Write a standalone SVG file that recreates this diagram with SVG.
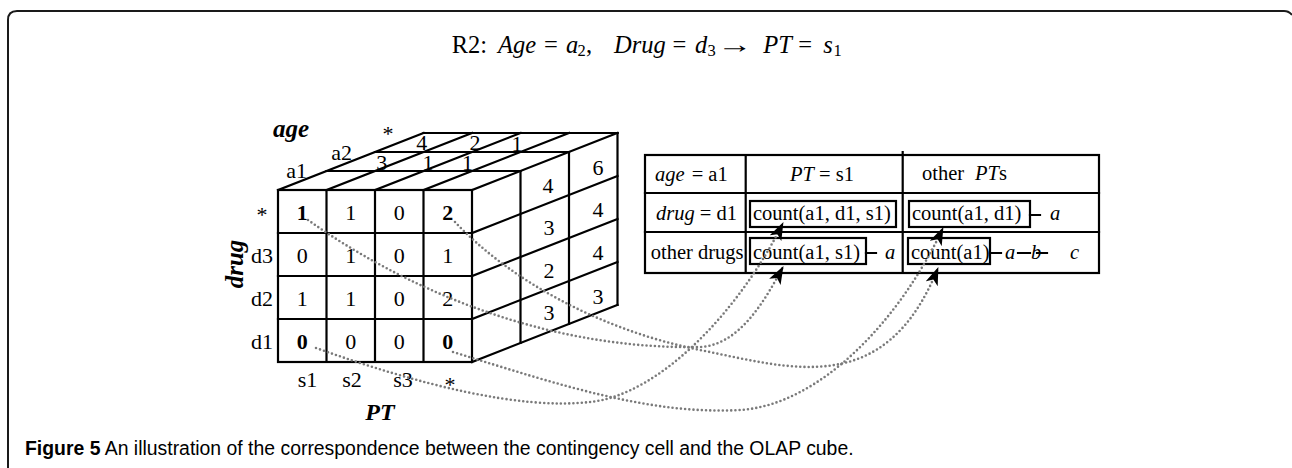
<svg xmlns="http://www.w3.org/2000/svg" width="1292" height="468" viewBox="0 0 1292 468">
<defs>
<style>
.s{font-family:"Liberation Serif","Times New Roman",serif;fill:#000}
.n{font-size:22px;text-anchor:middle}
.i{font-style:italic}
.b{font-weight:bold}
.bi{font-weight:bold;font-style:italic}
.ln{stroke:#000;stroke-width:2.2;fill:none;stroke-linecap:square}
.t{font-size:20.5px}
.dot{fill:none;stroke:#7a7a7a;stroke-width:2.6;stroke-dasharray:0 4.2;stroke-linecap:round}
</style>
<marker id="ah" viewBox="0 0 18 13" refX="17" refY="6.5" markerWidth="18" markerHeight="13" markerUnits="userSpaceOnUse" orient="auto"><path d="M0,0 L18,6.5 L0,13 L4.5,6.5 Z" fill="#000"/></marker>
</defs>
<rect width="1292" height="468" fill="#fff"/>
<path d="M8,468 L8,20 Q8,11 17,11 L1284,11 Q1289,11 1292,15" fill="none" stroke="#1a1a1a" stroke-width="2"/>

<g id="title" class="s" font-size="24.5">
<text y="53"><tspan x="451.7">R2:</tspan><tspan x="498" class="i">Age</tspan><tspan x="544">=</tspan><tspan x="566" class="i">a</tspan></text>
<text x="577.5" y="55.5" font-size="16.5">2</text>
<text y="53"><tspan x="586">,</tspan><tspan x="614" class="i">Drug</tspan><tspan x="672.5">=</tspan><tspan x="695" class="i">d</tspan></text>
<text x="707.5" y="55.5" font-size="16.5">3</text>
<text transform="translate(717,53) scale(1.45,1)">→</text>
<text y="53"><tspan x="763.3" class="i">PT</tspan><tspan x="798.3">=</tspan><tspan x="823.3" class="i">s</tspan></text>
<text x="833.5" y="55.5" font-size="16.5">1</text>
</g>

<g id="cube">
<g class="ln">
<rect x="278" y="190" width="194" height="172"/>
<path d="M326.5,190V362M375,190V362M423.5,190V362M278,233H472M278,276H472M278,319H472"/>
<path d="M278,190L423.5,133M326.5,190L472,133M375,190L520.5,133M423.5,190L569,133M472,190L617.5,133"/>
<path d="M326.5,171H520.5M375,152H569M423.5,133H617.5"/>
<path d="M520.5,171V343M569,152V324M617.5,133V305"/>
<path d="M472,233L617.5,176M472,276L617.5,219M472,319L617.5,262M472,362L617.5,305"/>
</g>
<g class="s n">
<text x="302.3" y="219.5" class="b">1</text><text x="350.8" y="219.5">1</text><text x="399.3" y="219.5">0</text><text x="447.8" y="219.5" class="b">2</text>
<text x="302.3" y="262.5">0</text><text x="350.8" y="262.5">1</text><text x="399.3" y="262.5">0</text><text x="447.8" y="262.5">1</text>
<text x="302.3" y="305.5">1</text><text x="350.8" y="305.5">1</text><text x="399.3" y="305.5">0</text><text x="447.8" y="305.5">2</text>
<text x="302.3" y="348.5" class="b">0</text><text x="350.8" y="348.5">0</text><text x="399.3" y="348.5">0</text><text x="447.8" y="348.5" class="b">0</text>
<text x="381.7" y="169.5">3</text><text x="428" y="169.5">1</text><text x="467.5" y="170">1</text>
<text x="421.7" y="150">4</text><text x="475" y="150">2</text><text x="517" y="151">1</text>
<text x="548" y="193">4</text><text x="549" y="235">3</text><text x="549" y="278">2</text><text x="549" y="320">3</text>
<text x="598" y="175">6</text><text x="598" y="217">4</text><text x="598" y="260">4</text><text x="598" y="304">3</text>
<text x="262" y="222">*</text><text x="262" y="263">d3</text><text x="262" y="306">d2</text><text x="262" y="348.5">d1</text>
<text x="307.5" y="387">s1</text><text x="352" y="387">s2</text><text x="403" y="387">s3</text><text x="450" y="392">*</text>
<text x="296.7" y="178">a1</text><text x="341.7" y="160">a2</text><text x="388" y="141">*</text>
</g>
<text class="s bi" x="380" y="420" font-size="24" text-anchor="middle">PT</text>
<text class="s bi" x="291" y="137" font-size="25" text-anchor="middle">age</text>
<text class="s bi" font-size="25" text-anchor="middle" transform="translate(243,264) rotate(-90)">drug</text>
</g>

<g id="table">
<g class="ln" stroke-width="2">
<rect x="645" y="155" width="454" height="118"/>
<path d="M745.7,155V273M902.7,152V273M645,193H1099M645,232H1099"/>
</g>
<g class="s t">
<text y="181"><tspan x="655" class="i">age</tspan><tspan x="691.7">= a1</tspan></text>
<text y="181"><tspan x="790" class="i">PT</tspan><tspan> = s1</tspan></text>
<text y="180"><tspan x="922">other</tspan><tspan x="975" class="i">PT</tspan><tspan>s</tspan></text>
<text y="220"><tspan x="656" class="i">drug</tspan><tspan> = d1</tspan></text>
<text x="650.7" y="259">other drugs</text>
</g>
<g id="box-a1-d1-s1"><rect class="ln" x="750" y="201" width="146" height="26" stroke-width="2"/><text class="s t" x="753" y="220">count(a1, d1, s1)</text></g>
<g id="box-a1-d1"><rect class="ln" x="909" y="201" width="121" height="26" stroke-width="2"/><text class="s t" x="912" y="220">count(a1, d1)</text></g>
<g id="box-a1-s1"><rect class="ln" x="750" y="238" width="116" height="26" stroke-width="2"/><text class="s t" x="753" y="259">count(a1, s1)</text></g>
<g id="box-a1"><rect class="ln" x="908" y="238" width="82" height="26" stroke-width="2"/><text class="s t" x="911" y="259">count(a1)</text></g>
<g class="ln" stroke-width="2" stroke-linecap="butt">
<path d="M1030,215H1040M866,253H876M990,253H1001M1018,253H1030M1037,253H1047"/>
</g>
<g class="s t i">
<text x="1050" y="220">a</text><text x="885" y="259">a</text><text x="1005" y="259">a</text><text x="1031" y="259">b</text><text x="1070" y="259">c</text>
</g>
</g>

<g id="connectors">
<path class="dot" d="M308,220 C400,285 540,350 700,347 C740,345 765,300 783,267" marker-end="url(#ah)"/>
<path class="dot" d="M455,222 C510,280 600,330 700,350 C790,368 885,400 938,268" marker-end="url(#ah)"/>
<path class="dot" d="M453,352 C560,385 650,415 740,410 C820,405 900,320 943,228" marker-end="url(#ah)"/>
<path class="dot" d="M316,348 C420,385 520,410 590,402 C660,395 740,310 783,223" marker-end="url(#ah)"/>
</g>

<g id="caption">
<text x="25" y="455" font-family="'Liberation Sans',Arial,sans-serif" font-size="19.4" fill="#000"><tspan font-weight="bold">Figure 5</tspan> An illustration of the correspondence between the contingency cell and the OLAP cube.</text>
</g>
</svg>
